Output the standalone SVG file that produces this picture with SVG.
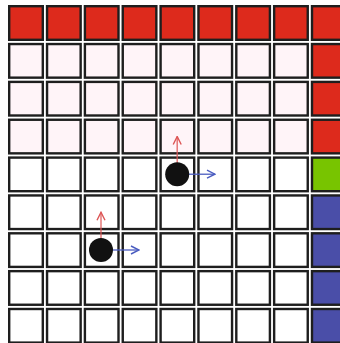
<svg xmlns="http://www.w3.org/2000/svg" width="340" height="343" viewBox="0 0 340 343">
<style>
.c{stroke:#1e1e1e;stroke-width:2.4}
.w{fill:#ffffff}
.p{fill:#fff4f8}
.r{fill:#dd2a1c}
.g{fill:#78c400}
.b{fill:#4a4ea8}
.ar{stroke:#dd5555;stroke-width:1.4;fill:none;stroke-opacity:0.85}
.ab{stroke:#4a5cc0;stroke-width:1.4;fill:none;stroke-opacity:0.85}
</style>
<defs>
<marker id="hr" viewBox="0 0 10 10" refX="9" refY="5" markerWidth="10" markerHeight="10" markerUnits="userSpaceOnUse" orient="auto"><path d="M1,1 L9,5 L1,9" stroke="#dd5555" stroke-width="1.4" fill="none"/></marker>
<marker id="hb" viewBox="0 0 10 10" refX="9" refY="5" markerWidth="10" markerHeight="10" markerUnits="userSpaceOnUse" orient="auto"><path d="M1,1 L9,5 L1,9" stroke="#4a5cc0" stroke-width="1.4" fill="none"/></marker>
</defs>
<rect width="340" height="343" fill="#ffffff"/>
<g id="row1">
<rect class="c r" x="9.2" y="6.2" width="33.6" height="33.6"/><rect class="c r" x="47.05" y="6.2" width="33.6" height="33.6"/><rect class="c r" x="84.9" y="6.2" width="33.6" height="33.6"/><rect class="c r" x="122.75" y="6.2" width="33.6" height="33.6"/><rect class="c r" x="160.6" y="6.2" width="33.6" height="33.6"/><rect class="c r" x="198.45" y="6.2" width="33.6" height="33.6"/><rect class="c r" x="236.3" y="6.2" width="33.6" height="33.6"/><rect class="c r" x="274.15" y="6.2" width="33.6" height="33.6"/><rect class="c r" x="312" y="6.2" width="33.6" height="33.6"/>
</g>
<g id="row2">
<rect class="c p" x="9.2" y="44.05" width="33.6" height="33.6"/><rect class="c p" x="47.05" y="44.05" width="33.6" height="33.6"/><rect class="c p" x="84.9" y="44.05" width="33.6" height="33.6"/><rect class="c p" x="122.75" y="44.05" width="33.6" height="33.6"/><rect class="c p" x="160.6" y="44.05" width="33.6" height="33.6"/><rect class="c p" x="198.45" y="44.05" width="33.6" height="33.6"/><rect class="c p" x="236.3" y="44.05" width="33.6" height="33.6"/><rect class="c p" x="274.15" y="44.05" width="33.6" height="33.6"/><rect class="c r" x="312" y="44.05" width="33.6" height="33.6"/>
</g>
<g id="row3">
<rect class="c p" x="9.2" y="81.9" width="33.6" height="33.6"/><rect class="c p" x="47.05" y="81.9" width="33.6" height="33.6"/><rect class="c p" x="84.9" y="81.9" width="33.6" height="33.6"/><rect class="c p" x="122.75" y="81.9" width="33.6" height="33.6"/><rect class="c p" x="160.6" y="81.9" width="33.6" height="33.6"/><rect class="c p" x="198.45" y="81.9" width="33.6" height="33.6"/><rect class="c p" x="236.3" y="81.9" width="33.6" height="33.6"/><rect class="c p" x="274.15" y="81.9" width="33.6" height="33.6"/><rect class="c r" x="312" y="81.9" width="33.6" height="33.6"/>
</g>
<g id="row4">
<rect class="c p" x="9.2" y="119.75" width="33.6" height="33.6"/><rect class="c p" x="47.05" y="119.75" width="33.6" height="33.6"/><rect class="c p" x="84.9" y="119.75" width="33.6" height="33.6"/><rect class="c p" x="122.75" y="119.75" width="33.6" height="33.6"/><rect class="c p" x="160.6" y="119.75" width="33.6" height="33.6"/><rect class="c p" x="198.45" y="119.75" width="33.6" height="33.6"/><rect class="c p" x="236.3" y="119.75" width="33.6" height="33.6"/><rect class="c p" x="274.15" y="119.75" width="33.6" height="33.6"/><rect class="c r" x="312" y="119.75" width="33.6" height="33.6"/>
</g>
<g id="row5">
<rect class="c w" x="9.2" y="157.6" width="33.6" height="33.6"/><rect class="c w" x="47.05" y="157.6" width="33.6" height="33.6"/><rect class="c w" x="84.9" y="157.6" width="33.6" height="33.6"/><rect class="c w" x="122.75" y="157.6" width="33.6" height="33.6"/><rect class="c w" x="160.6" y="157.6" width="33.6" height="33.6"/><rect class="c w" x="198.45" y="157.6" width="33.6" height="33.6"/><rect class="c w" x="236.3" y="157.6" width="33.6" height="33.6"/><rect class="c w" x="274.15" y="157.6" width="33.6" height="33.6"/><rect class="c g" x="312" y="157.6" width="33.6" height="33.6"/>
</g>
<g id="row6">
<rect class="c w" x="9.2" y="195.45" width="33.6" height="33.6"/><rect class="c w" x="47.05" y="195.45" width="33.6" height="33.6"/><rect class="c w" x="84.9" y="195.45" width="33.6" height="33.6"/><rect class="c w" x="122.75" y="195.45" width="33.6" height="33.6"/><rect class="c w" x="160.6" y="195.45" width="33.6" height="33.6"/><rect class="c w" x="198.45" y="195.45" width="33.6" height="33.6"/><rect class="c w" x="236.3" y="195.45" width="33.6" height="33.6"/><rect class="c w" x="274.15" y="195.45" width="33.6" height="33.6"/><rect class="c b" x="312" y="195.45" width="33.6" height="33.6"/>
</g>
<g id="row7">
<rect class="c w" x="9.2" y="233.3" width="33.6" height="33.6"/><rect class="c w" x="47.05" y="233.3" width="33.6" height="33.6"/><rect class="c w" x="84.9" y="233.3" width="33.6" height="33.6"/><rect class="c w" x="122.75" y="233.3" width="33.6" height="33.6"/><rect class="c w" x="160.6" y="233.3" width="33.6" height="33.6"/><rect class="c w" x="198.45" y="233.3" width="33.6" height="33.6"/><rect class="c w" x="236.3" y="233.3" width="33.6" height="33.6"/><rect class="c w" x="274.15" y="233.3" width="33.6" height="33.6"/><rect class="c b" x="312" y="233.3" width="33.6" height="33.6"/>
</g>
<g id="row8">
<rect class="c w" x="9.2" y="271.15" width="33.6" height="33.6"/><rect class="c w" x="47.05" y="271.15" width="33.6" height="33.6"/><rect class="c w" x="84.9" y="271.15" width="33.6" height="33.6"/><rect class="c w" x="122.75" y="271.15" width="33.6" height="33.6"/><rect class="c w" x="160.6" y="271.15" width="33.6" height="33.6"/><rect class="c w" x="198.45" y="271.15" width="33.6" height="33.6"/><rect class="c w" x="236.3" y="271.15" width="33.6" height="33.6"/><rect class="c w" x="274.15" y="271.15" width="33.6" height="33.6"/><rect class="c b" x="312" y="271.15" width="33.6" height="33.6"/>
</g>
<g id="row9">
<rect class="c w" x="9.2" y="309" width="33.6" height="33.6"/><rect class="c w" x="47.05" y="309" width="33.6" height="33.6"/><rect class="c w" x="84.9" y="309" width="33.6" height="33.6"/><rect class="c w" x="122.75" y="309" width="33.6" height="33.6"/><rect class="c w" x="160.6" y="309" width="33.6" height="33.6"/><rect class="c w" x="198.45" y="309" width="33.6" height="33.6"/><rect class="c w" x="236.3" y="309" width="33.6" height="33.6"/><rect class="c w" x="274.15" y="309" width="33.6" height="33.6"/><rect class="c b" x="312" y="309" width="33.6" height="33.6"/>
</g>
<g id="connectors">
<line class="ar" x1="177.2" y1="174.2" x2="177.2" y2="136.5" marker-end="url(#hr)"/>
<line class="ab" x1="177.2" y1="174.2" x2="215" y2="174.2" marker-end="url(#hb)"/>
<line class="ar" x1="101" y1="250" x2="101" y2="212.3" marker-end="url(#hr)"/>
<line class="ab" x1="101" y1="250" x2="139" y2="250" marker-end="url(#hb)"/>
</g>
<g id="agent1"><circle cx="177.2" cy="174.2" r="12" fill="#111111"/></g>
<g id="agent2"><circle cx="101" cy="250" r="12" fill="#111111"/></g>
</svg>
